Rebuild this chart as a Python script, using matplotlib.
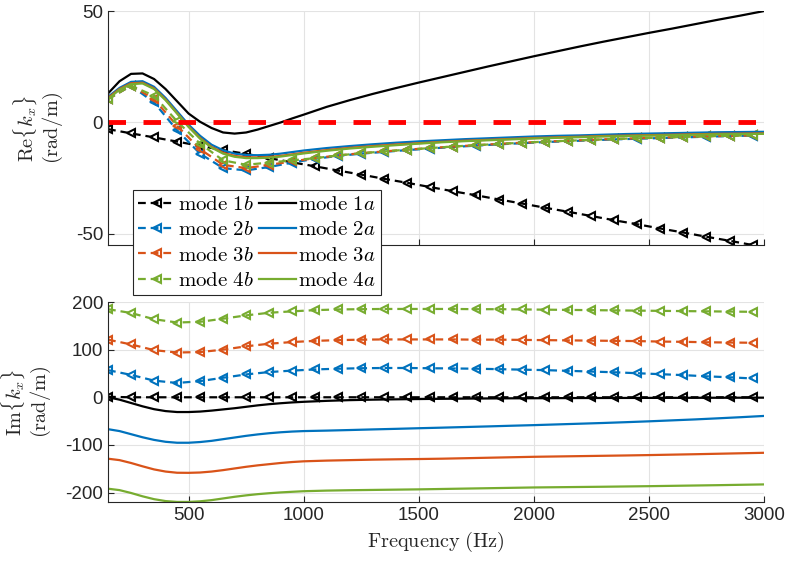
import numpy as np
import matplotlib
matplotlib.use("Agg")
import matplotlib.pyplot as plt

plt.rcParams['font.family'] = ['Liberation Sans', 'DejaVu Sans']
plt.rcParams['mathtext.fontset'] = 'cm'
plt.rcParams['axes.unicode_minus'] = False

# frequencies (Hz)
freq_b = [150, 250, 350, 450, 550, 650, 750, 850, 950, 1050, 1150, 1250, 1350, 1450,
          1550, 1650, 1750, 1850, 1950, 2050, 2150, 2250, 2350, 2450, 2550, 2650,
          2750, 2850, 2950]
freq_a = [150, 200, 250, 300, 350, 400, 450, 500, 550, 600, 650, 700, 750, 800, 850,
          900, 950, 1000, 1100, 1200, 1300, 1400, 1500, 1600, 1700, 1800, 1900, 2000,
          2100, 2200, 2300, 2400, 2500, 2600, 2700, 2800, 2900, 3000]
freq_zero = [150, 3000]
zero_line = [0, 0]

# Re{kx}, modes "b" (dashed with markers)
re_1b = [-3, -4.9, -6.7, -8.6, -10.5, -12.4, -14.1, -16, -17.9, -19.7, -21.6, -23.4,
         -25.3, -27.1, -29, -30.9, -32.7, -34.6, -36.4, -38.3, -40.1, -42, -43.9,
         -45.7, -47.6, -49.4, -51.3, -53.1, -55]
re_2b = [10.5, 16.5, 9, -3.5, -14, -20.5, -21.5, -20, -18, -16.3, -15, -14, -13.2,
         -12.4, -11.7, -11, -10.4, -9.8, -9.3, -8.8, -8.4, -8, -7.6, -7.3, -7, -6.7,
         -6.4, -6.1, -5.9]
re_3b = [10.5, 16.5, 10.5, -1.5, -12, -19, -20.5, -19, -17.5, -16, -14.8, -13.8, -13,
         -12.2, -11.5, -10.8, -10.2, -9.6, -9.1, -8.6, -8.2, -7.8, -7.4, -7.1, -6.8,
         -6.5, -6.2, -6, -5.8]
re_4b = [10.5, 16.5, 12, 0.5, -9.5, -17, -19, -18, -17, -16, -14.8, -13.8, -13, -12.2,
         -11.5, -10.8, -10.2, -9.6, -9.1, -8.6, -8.2, -7.8, -7.4, -7.1, -6.8, -6.5,
         -6.2, -6, -5.8]

# Re{kx}, modes "a" (solid)
re_1a = [13, 18.5, 21.8, 22, 19.5, 15, 9.5, 4, 0.3, -2.5, -4.5, -5, -4.5, -3.2, -1.6,
         0, 1.8, 3.5, 7, 10, 12.8, 15.4, 17.9, 20.3, 22.7, 25.1, 27.4, 29.7, 31.9,
         34.1, 36.2, 38.2, 40.2, 42.1, 44.1, 46.1, 48, 50]
re_2a = [11.5, 15.5, 18.2, 18.5, 16, 11, 5, -1, -6, -10, -12.5, -14, -14.6, -14.7,
         -14.5, -14, -13.3, -12.6, -11.5, -10.6, -9.8, -9.1, -8.5, -8, -7.5, -7.1,
         -6.7, -6.3, -6, -5.8, -5.5, -5.2, -5, -4.8, -4.6, -4.4, -4.3, -4.2]
re_3a = [11, 15, 17.6, 17.8, 15.3, 10.3, 4.2, -1.8, -7, -11, -13.6, -15, -15.6, -15.7,
         -15.5, -15, -14.3, -13.6, -12.4, -11.4, -10.6, -9.9, -9.3, -8.7, -8.2, -7.8,
         -7.4, -7, -6.7, -6.4, -6.1, -5.9, -5.7, -5.5, -5.3, -5.1, -5, -4.9]
re_4a = [10.5, 14.7, 17.2, 17.5, 15, 10, 4, -2, -7.3, -11.3, -14, -15.4, -16, -16,
         -15.8, -15.3, -14.6, -13.9, -12.7, -11.7, -10.9, -10.2, -9.5, -8.9, -8.4, -8,
         -7.6, -7.2, -6.9, -6.6, -6.3, -6.1, -5.9, -5.7, -5.5, -5.3, -5.2, -5.1]

# Im{kx}, modes "b"
im_1b = [1, 0, 0, 0, 0, 0, 0, 0, 0, 0, 0, 0, 0, 0, 0, 0, 0, 0, 0, 0, 0, 0, 0, 0, 0,
         0, 0, 0, 0]
im_2b = [57, 47, 35, 30, 34, 41, 48, 53, 56, 58.5, 60, 61, 61.5, 61.5, 61, 60.5, 60,
         59, 58, 57, 55.5, 54, 52.5, 50.5, 48.5, 46.5, 44, 42, 39.5]
im_3b = [121, 111, 99, 94, 95, 100, 107, 112.5, 116, 118.5, 120, 121, 121.5, 121.5,
         121.5, 121.5, 121, 121, 120.5, 120, 119.5, 119, 118.5, 118, 117, 116.5, 115.5,
         115, 114.5]
im_4b = [185, 177, 164, 157, 158.5, 165, 172, 177.5, 180.5, 183, 184.5, 185, 185.5,
         185.5, 185.5, 185.5, 185, 185, 184.5, 184, 183.5, 183, 182.5, 182, 181.5, 181,
         180.5, 180, 179.5]

# Im{kx}, modes "a"
im_1a = [0, -5, -12, -19, -25, -29, -31, -31, -30, -28, -25.5, -23, -20, -17, -14.5,
         -12.5, -10.8, -9.5, -7.5, -6, -5, -4.3, -3.7, -3.2, -2.8, -2.5, -2.2, -2,
         -1.8, -1.6, -1.5, -1.4, -1.3, -1.2, -1.1, -1, -0.9, -0.8]
im_2a = [-67, -71, -77.5, -84, -89.5, -93.5, -95.5, -95.5, -94, -91.5, -88, -84.5,
         -81, -78, -75.5, -73.5, -72, -71, -70, -68.8, -67.5, -66.3, -65, -63.8, -62.5,
         -61.2, -59.8, -58.5, -57, -55.5, -54, -52.3, -50.5, -48.5, -46.5, -44.2, -41.8,
         -39.2]
im_3a = [-129, -132, -138, -145, -151.5, -156, -158.5, -158.7, -158, -156, -153,
         -149.5, -146, -143, -140.5, -138, -136, -134.5, -133, -132, -131, -130.3,
         -129.7, -129, -128, -127, -126, -125, -124.3, -123.6, -122.9, -122.2, -121.4,
         -120.5, -119.6, -118.6, -117.6, -116.6]
im_4a = [-192, -195, -201, -208, -214, -218, -219.8, -219.8, -218.5, -216, -212.5,
         -209, -206, -203.5, -201.5, -199.8, -198.5, -197.3, -196, -195.2, -194.6, -194,
         -193.4, -192.6, -191.8, -191, -190.2, -189.4, -188.9, -188.4, -187.9, -187.3,
         -186.7, -186, -185.3, -184.6, -183.8, -183]

colors = ['black', '#0072BD', '#D95319', '#77AC30']
names = ['1', '2', '3', '4']

fig = plt.figure(figsize=(7.85, 5.63), dpi=100)
ax1 = fig.add_axes([0.1376, 0.5648, 0.8357, 0.4156])
ax2 = fig.add_axes([0.1376, 0.1083, 0.8357, 0.3552])


def style(ax):
    for s in ['top', 'right']:
        ax.spines[s].set_visible(False)
    for s in ['left', 'bottom']:
        ax.spines[s].set_color('#262626')
        ax.spines[s].set_linewidth(0.8)
    ax.tick_params(direction='in', length=4, width=0.8, color='#262626',
                   labelcolor='#262626', labelsize=13.5)
    ax.grid(True, color='#e3e3e3', linewidth=0.8)
    ax.set_axisbelow(True)
    ax.set_xlim(150, 3000)
    ax.set_xticks([500, 1000, 1500, 2000, 2500, 3000])


def plot_b(ax, y, c):
    return ax.plot(freq_b, y, color=c, linestyle=(0, (3.5, 2.2)), linewidth=1.6,
                   marker='<', markersize=6, markerfacecolor='none',
                   markeredgewidth=1.5)[0]


def plot_a(ax, y, c):
    return ax.plot(freq_a, y, color=c, linewidth=1.6)[0]


re_b = [re_1b, re_2b, re_3b, re_4b]
re_a = [re_1a, re_2a, re_3a, re_4a]
im_b = [im_1b, im_2b, im_3b, im_4b]
im_a = [im_1a, im_2a, im_3a, im_4a]

hb, ha = [], []
for i in range(4):
    hb.append(plot_b(ax1, re_b[i], colors[i]))
for i in range(4):
    ha.append(plot_a(ax1, re_a[i], colors[i]))
ax1.plot(freq_zero, zero_line, color='red', linewidth=3.5, linestyle=(0, (3.6, 3.6)))

for i in range(4):
    plot_b(ax2, im_b[i], colors[i])
for i in range(4):
    plot_a(ax2, im_a[i], colors[i])

style(ax1)
style(ax2)
ax1.set_ylim(-55, 50)
ax1.set_yticks([-50, 0, 50])
ax1.set_xticklabels([])
ax2.set_ylim(-220, 200)
ax2.set_yticks([-200, -100, 0, 100, 200])

ax1.set_ylabel('$\\mathrm{Re}\\{k_x\\}$\n$(\\mathrm{rad/m})$', fontsize=14.6,
               color='#262626', linespacing=1.1)
ax1.yaxis.set_label_coords(-0.066, 0.5)
ax2.set_ylabel('$\\mathrm{Im}\\{k_x\\}$\n$(\\mathrm{rad/m})$', fontsize=14.6,
               color='#262626', linespacing=1.1)
ax2.yaxis.set_label_coords(-0.084, 0.5)
ax2.set_xlabel('$\\mathrm{Frequency\\ (Hz)}$', fontsize=14.6, color='#262626',
               labelpad=4)

labels = ['$\\mathrm{mode}\\ %sb$' % n for n in names] + \
         ['$\\mathrm{mode}\\ %sa$' % n for n in names]
leg = fig.legend(hb + ha, labels, ncol=2, loc='upper left',
                 bbox_to_anchor=(133 / 785, 1 - 190 / 563), borderaxespad=0,
                 fancybox=False, framealpha=1, edgecolor='#262626', fontsize=15,
                 handlelength=1.8, handletextpad=0.1, columnspacing=0.25,
                 labelspacing=0.3, borderpad=0.25)
leg.get_frame().set_linewidth(0.8)

fig.savefig('out.png', dpi=100)
